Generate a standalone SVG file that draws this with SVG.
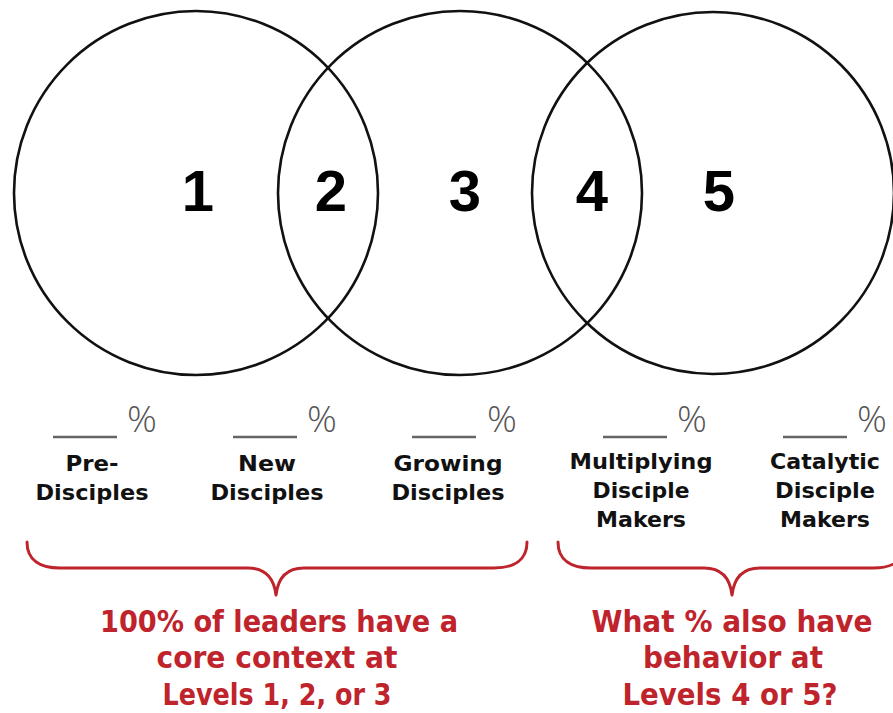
<svg xmlns="http://www.w3.org/2000/svg" width="893" height="713" viewBox="0 0 893 713">
<style>
.circ{fill:none;stroke:#111;stroke-width:2.6}
.num{font-family:"Liberation Sans",Arial,sans-serif;font-weight:bold;font-size:58px;fill:#000;text-anchor:middle}
.blank{stroke:#666;stroke-width:2.4}
.pct{font-family:"Open Sans","Liberation Sans",sans-serif;font-weight:300;font-size:37px;fill:#555}
.lbl{font-family:"DejaVu Sans","Liberation Sans",sans-serif;font-weight:bold;font-size:22px;fill:#111;text-anchor:middle}
.brace{fill:none;stroke:#BF242C;stroke-width:3;stroke-linecap:round;stroke-linejoin:round}
.note{font-family:"DejaVu Sans","Liberation Sans",sans-serif;font-weight:bold;font-size:30px;fill:#BF242C;text-anchor:middle}
</style>
<rect width="893" height="713" fill="#fff"/>
<g id="venn">
  <g id="circle-a"><circle class="circ" cx="196" cy="193" r="182"/></g>
  <g id="circle-b"><circle class="circ" cx="460" cy="193" r="182"/></g>
  <g id="circle-c"><circle class="circ" cx="713" cy="193" r="181"/></g>
  <g id="region-1"><text class="num" x="198" y="211">1</text></g>
  <g id="region-2"><text class="num" x="331" y="211">2</text></g>
  <g id="region-3"><text class="num" x="465" y="211">3</text></g>
  <g id="region-4"><text class="num" x="592" y="211">4</text></g>
  <g id="region-5"><text class="num" x="719" y="211">5</text></g>
</g>
<g id="level-1">
  <line class="blank" x1="53" y1="437" x2="117" y2="437"/>
  <text class="pct" x="127" y="432">%</text>
  <text class="lbl" x="92" y="471" textLength="53" lengthAdjust="spacingAndGlyphs">Pre-</text>
  <text class="lbl" x="92" y="500" textLength="113" lengthAdjust="spacingAndGlyphs">Disciples</text>
</g>
<g id="level-2">
  <line class="blank" x1="233" y1="437" x2="297" y2="437"/>
  <text class="pct" x="307" y="432">%</text>
  <text class="lbl" x="267" y="471" textLength="58" lengthAdjust="spacingAndGlyphs">New</text>
  <text class="lbl" x="267" y="500" textLength="113" lengthAdjust="spacingAndGlyphs">Disciples</text>
</g>
<g id="level-3">
  <line class="blank" x1="412" y1="437" x2="476" y2="437"/>
  <text class="pct" x="487" y="432">%</text>
  <text class="lbl" x="448" y="471" textLength="109" lengthAdjust="spacingAndGlyphs">Growing</text>
  <text class="lbl" x="448" y="500" textLength="113" lengthAdjust="spacingAndGlyphs">Disciples</text>
</g>
<g id="level-4">
  <line class="blank" x1="603" y1="437" x2="667" y2="437"/>
  <text class="pct" x="677" y="432">%</text>
  <text class="lbl" x="641" y="469" textLength="143" lengthAdjust="spacingAndGlyphs">Multiplying</text>
  <text class="lbl" x="641" y="498" textLength="97" lengthAdjust="spacingAndGlyphs">Disciple</text>
  <text class="lbl" x="641" y="527" textLength="90" lengthAdjust="spacingAndGlyphs">Makers</text>
</g>
<g id="level-5">
  <line class="blank" x1="783" y1="437" x2="847" y2="437"/>
  <text class="pct" x="857" y="432">%</text>
  <text class="lbl" x="825" y="469" textLength="110" lengthAdjust="spacingAndGlyphs">Catalytic</text>
  <text class="lbl" x="825" y="498" textLength="100" lengthAdjust="spacingAndGlyphs">Disciple</text>
  <text class="lbl" x="825" y="527" textLength="90" lengthAdjust="spacingAndGlyphs">Makers</text>
</g>
<g id="connectors">
  <path class="brace" d="M27,542 C27,560 40,568 60,568 L248,568 C265,568 274,578 276,595 C278,578 287,568 304,568 L494,568 C514,568 527,560 527,542"/>
  <path class="brace" d="M558,542 C558,560 571,568 591,568 L704,568 C721,568 730,578 732,595 C734,578 743,568 760,568 L873,568 C893,568 906,560 906,542"/>
</g>
<g id="note-left">
  <text class="note" x="279" y="632" textLength="358" lengthAdjust="spacingAndGlyphs">100% of leaders have a</text>
  <text class="note" x="277" y="668" textLength="241" lengthAdjust="spacingAndGlyphs">core context at</text>
  <text class="note" x="277" y="705" textLength="229" lengthAdjust="spacingAndGlyphs">Levels 1, 2, or 3</text>
</g>
<g id="note-right">
  <text class="note" x="732" y="632" textLength="281" lengthAdjust="spacingAndGlyphs">What % also have</text>
  <text class="note" x="733" y="668" textLength="180" lengthAdjust="spacingAndGlyphs">behavior at</text>
  <text class="note" x="730" y="705" textLength="215" lengthAdjust="spacingAndGlyphs">Levels 4 or 5?</text>
</g>
</svg>
